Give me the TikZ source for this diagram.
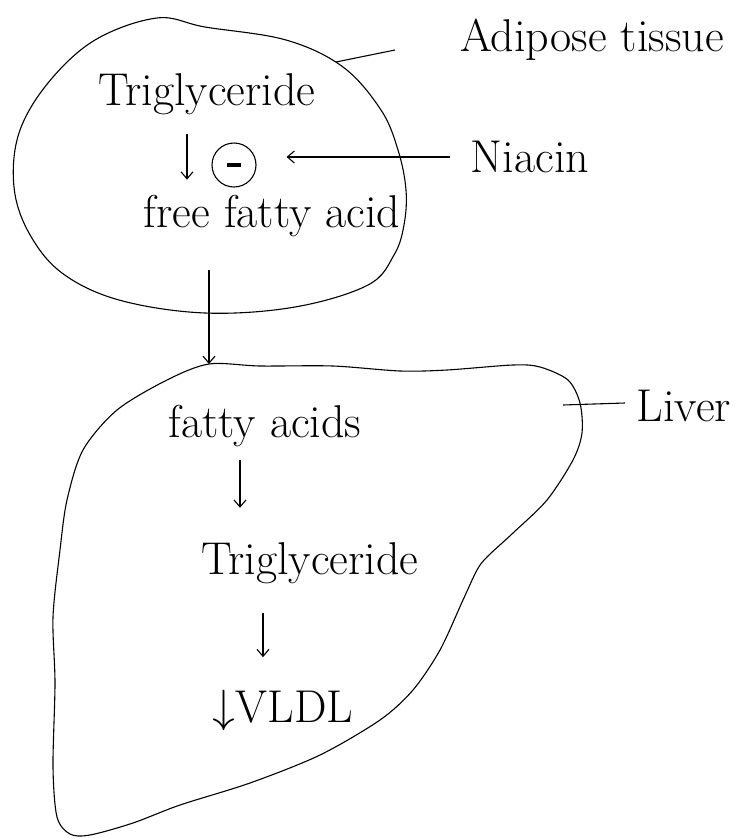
\documentclass[tikz,border=0pt]{standalone}
\usepackage{fontspec}
\newfontfamily\arrowfont{Latin Modern Math}
\usetikzlibrary{arrows.meta}

\begin{document}
\begin{tikzpicture}[x=1pt, y=-1pt, line width=1.1pt,
        txt/.style={inner sep=0pt, font=\fontsize{46}{50}\selectfont},
        arr/.style={-{Straight Barb[length=7pt, width=12pt]}}]
        \useasboundingbox (0,0) rectangle (746,838);
        \node[txt] (tg1)     at (207, 94)  {Triglyceride};
        \node[txt] (ffa)     at (272, 216) {free fatty acid};
        \node[circle, draw, minimum size=44pt, inner sep=0pt] (inh) at (234, 165) {\rule{14pt}{3.5pt}};
        \node[txt] (niacin)  at (530, 157) {Niacin};
        \node[txt] (adipose) at (592, 40)  {Adipose tissue};
        \node[txt] (fa)      at (265, 426) {fatty acids};
        \node[txt] (tg2)     at (310, 563) {Triglyceride};
        \node[txt] (vldl)    at (283, 710) {{\arrowfont ↓}VLDL};
        \node[txt] (liver)   at (684, 406) {Liver};
        \coordinate (ae) at (336, 62);
        \coordinate (le) at (563, 405);
        \coordinate (lt) at (209, 364);
        \draw plot[smooth cycle, tension=0.6] coordinates {
            (157,18) (205,27) (286,40) (343,67) (381,110) (398,150)
            (406,190) (404,225) (394,255) (368,285) (295,307) (205,313)
            (119,300) (62,273) (29,233) (14,187) (19,133) (48,83) (95,40)};
        \draw plot[smooth cycle, tension=0.5] coordinates {
            (209,364) (260,366) (333,366) (400,371) (447,370) (513,365)
            (540,367) (568,380) (580,403) (582,433) (573,460) (547,500)
            (513,533) (487,557) (477,570) (463,600) (440,650) (413,690)
            (380,720) (320,755) (250,783) (180,805) (133,823) (90,835)
            (70,834) (57,817) (53,767) (55,683) (53,617) (60,550)
            (67,500) (83,450) (117,410) (167,380)};
        \draw (ae) -- ++(59,-12);
        \draw (le) -- ++(62,-2);
        \draw[arr, shorten <=19pt, shorten >=15pt] ([xshift=-20pt]tg1.south) -- ([xshift=-20pt]tg1.south |- ffa.north);
        \draw[arr, shorten <=20pt, shorten >=30pt] (niacin.west) -- (niacin.west -| inh.east);
        \draw[arr, shorten <=33pt] (ffa.south -| lt) -- (lt);
        \draw[arr, shorten <=13pt, shorten >=34pt] ([xshift=-25pt]fa.south) -- ([xshift=-25pt]fa.south |- tg2.north);
        \draw[arr, shorten <=29pt, shorten >=32pt] ([xshift=-47pt]tg2.south) -- ([xshift=-47pt]tg2.south |- vldl.north);
\end{tikzpicture}
\end{document}
